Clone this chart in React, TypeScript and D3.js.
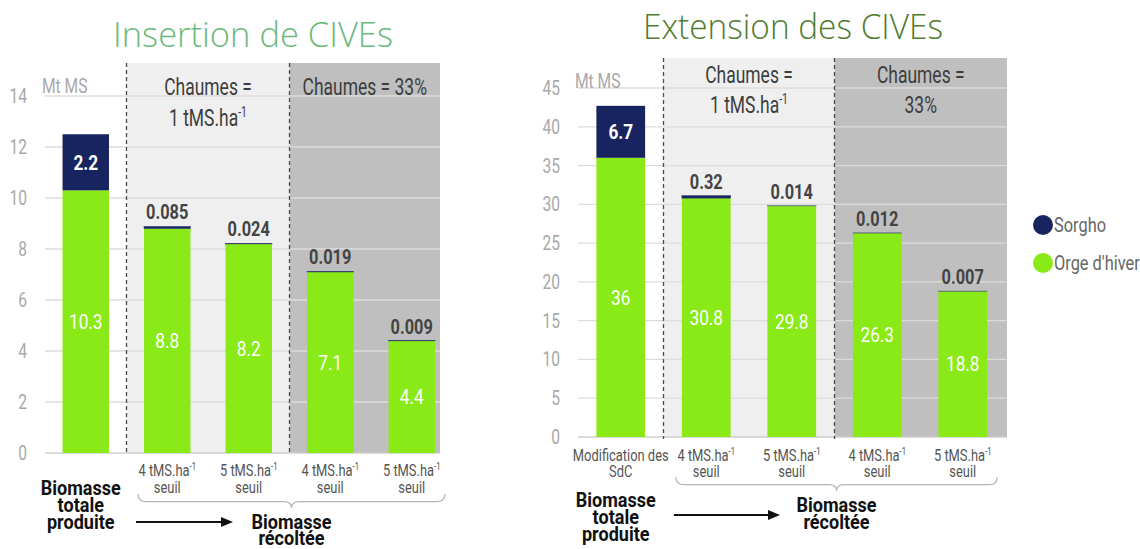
import React, { useRef, useEffect } from 'react';
import * as d3 from 'd3';

// Insertion de CIVEs (Mt MS)
const insertionOrge = [10.3, 8.8, 8.2, 7.1, 4.4];
const insertionSorgho = [2.2, 0.085, 0.024, 0.019, 0.009];
const insertionTicks = [0, 2, 4, 6, 8, 10, 12, 14];

// Extension des CIVEs (Mt MS)
const extensionOrge = [36, 30.8, 29.8, 26.3, 18.8];
const extensionSorgho = [6.7, 0.32, 0.014, 0.012, 0.007];
const extensionTicks = [0, 5, 10, 15, 20, 25, 30, 35, 40, 45];

const categoryLabelsLeft = [[''], ['4 tMS.ha', 'seuil'], ['5 tMS.ha', 'seuil'], ['4 tMS.ha', 'seuil'], ['5 tMS.ha', 'seuil']];
const categoryLabelsRight = [['Modification des', 'SdC'], ['4 tMS.ha', 'seuil'], ['5 tMS.ha', 'seuil'], ['4 tMS.ha', 'seuil'], ['5 tMS.ha', 'seuil']];
const legendItems = ['Sorgho', "Orge d'hiver"];

const GREEN = '#8aea17';
const NAVY = '#18245f';
const COND = "Roboto, 'Noto Sans', sans-serif";
const SX = 0.8; // fake condensed face

// condensed text helper
function label(g, x, y, str, o = {}) {
  const t = g.append('text')
    .attr('transform', `translate(${x},${y}) scale(${o.sx || SX},1)`)
    .attr('text-anchor', o.anchor || 'middle')
    .attr('dy', o.dy || 0)
    .attr('font-family', COND)
    .attr('font-size', o.size || 16)
    .attr('font-weight', o.weight || 'normal')
    .attr('fill', o.fill || '#444');
  if (typeof str === 'string' && str.endsWith('ha')) {
    t.append('tspan').text(str);
    t.append('tspan').attr('dy', -(o.size || 16) * 0.38).attr('font-size', (o.size || 16) * 0.6).text('-1');
  } else t.text(str);
  return t;
}

function brace(x1, x2, tip, yTop, h) {
  const ym = yTop + h * 0.55;
  const r = 8;
  return `M${x1},${yTop} Q${x1},${ym} ${x1 + r},${ym} L${tip - r},${ym} Q${tip},${ym} ${tip},${yTop + h} Q${tip},${ym} ${tip + r},${ym} L${x2 - r},${ym} Q${x2},${ym} ${x2},${yTop}`;
}

function drawPanel(svg, p) {
  const x = d3.scaleBand().domain(d3.range(p.orge.length)).range(p.xRange).paddingInner(0.43).paddingOuter(0.215);
  const y = d3.scaleLinear().domain([0, p.yMax]).range(p.yRange);
  const bw = x.bandwidth();
  const gap = (x.step() - bw) / 2;
  const b1 = x(1) - gap;
  const b2 = x(3) - gap;
  const g = svg.append('g');

  // title
  g.append('text')
    .attr('x', p.titleX).attr('y', p.titleY)
    .attr('text-anchor', 'middle')
    .attr('font-family', "'Open Sans', 'Noto Sans', sans-serif")
    .attr('font-weight', 300)
    .attr('font-size', 34)
    .attr('textLength', p.titleLen).attr('lengthAdjust', 'spacingAndGlyphs')
    .attr('fill', p.titleColor)
    .text(p.title);

  // backgrounds
  g.append('rect').attr('x', b1).attr('y', p.bgTop).attr('width', b2 - b1).attr('height', y(0) - p.bgTop).attr('fill', '#efefef');
  g.append('rect').attr('x', b2).attr('y', p.bgTop).attr('width', p.gridEnd - b2).attr('height', y(0) - p.bgTop).attr('fill', '#bfbfbf');

  // gridlines
  g.selectAll('.grid').data(p.ticks).enter().append('line')
    .attr('x1', p.xRange[0]).attr('x2', p.gridEnd)
    .attr('y1', (d) => y(d)).attr('y2', (d) => y(d))
    .attr('stroke', (d) => (d === 0 ? '#cfcfcf' : '#dcdcdc'))
    .attr('stroke-width', 1.3);

  p.ticks.forEach((d) => {
    label(g, p.xRange[0] - 18, y(d), d, { anchor: 'end', dy: '0.35em', size: 20, fill: '#a8a8a8', sx: 0.78 });
  });
  label(g, p.xRange[0] - 3, p.unitY, 'Mt MS', { anchor: 'start', size: 20, fill: '#a8a8a8', sx: 0.78 });

  // dashed separators
  [b1, b2].forEach((bx) => {
    g.append('line').attr('x1', bx).attr('x2', bx).attr('y1', p.bgTop).attr('y2', y(0) + 2)
      .attr('stroke', '#4a4a4a').attr('stroke-width', 1.3).attr('stroke-dasharray', '4 3');
  });

  // headers
  const hdr = { size: 23, fill: '#3d3d3d', sx: 0.76 };
  ['Chaumes =', '1 tMS.ha'].forEach((ln, k) => label(g, (b1 + b2) / 2, p.headerY[k], ln, hdr));
  p.darkHeader.forEach((ln, k) => label(g, (b2 + p.gridEnd) / 2, p.darkHeaderY[k], ln, hdr));

  // bars
  const idx = d3.range(p.orge.length);
  g.selectAll('.orge').data(idx).enter().append('rect')
    .attr('x', (i) => x(i)).attr('width', bw)
    .attr('y', (i) => y(p.orge[i])).attr('height', (i) => y(0) - y(p.orge[i]))
    .attr('fill', GREEN);
  g.selectAll('.sorgho').data(idx).enter().append('rect')
    .attr('x', (i) => x(i)).attr('width', bw)
    .attr('y', (i) => y(p.orge[i] + p.sorgho[i]))
    .attr('height', (i) => y(p.orge[i]) - y(p.orge[i] + p.sorgho[i]))
    .attr('fill', NAVY).attr('stroke', (i) => (i === 0 ? 'none' : '#3a4470')).attr('stroke-width', 0.6);

  // value labels
  idx.forEach((i) => {
    const cx = x(i) + bw / 2;
    label(g, cx, y(p.orge[i] / 2), p.orge[i], { dy: '0.35em', size: 21, fill: '#fff', sx: 0.82 });
    if (i === 0) {
      label(g, cx, y(p.orge[i] + p.sorgho[i] / 2), p.sorgho[i], { dy: '0.35em', size: 21, weight: 'bold', fill: '#fff', sx: 0.82 });
    } else {
      label(g, cx, y(p.orge[i] + p.sorgho[i]) - 7, p.sorgho[i], { size: 20, weight: 'bold', fill: '#444', sx: 0.82 });
    }
    p.cats[i].forEach((ln, k) => label(g, cx, p.catY[k], ln, { size: 17, fill: '#555', sx: 0.76 }));
  });

  // brace
  const bx1 = x(1) - 6;
  const bx2 = x(p.orge.length - 1) + bw + 10;
  const tip = (bx1 + bx2) / 2;
  g.append('path').attr('d', brace(bx1, bx2, tip, p.braceY, 14))
    .attr('fill', 'none').attr('stroke', '#b5b5b5').attr('stroke-width', 1.2);

  // bottom annotations
  const bold = { size: 21, weight: 'bold', fill: '#111', sx: 0.86 };
  ['Biomasse', 'totale', 'produite'].forEach((ln, k) => label(g, x(0) + bw / 2 - 5, p.totY[k], ln, bold));
  ['Biomasse', 'récoltée'].forEach((ln, k) => label(g, tip, p.recY[k], ln, bold));

  g.append('line').attr('x1', x(1) - 8).attr('x2', p.arrowEnd - 8)
    .attr('y1', p.arrowY).attr('y2', p.arrowY).attr('stroke', '#111').attr('stroke-width', 2);
  g.append('path')
    .attr('d', `M${p.arrowEnd},${p.arrowY} L${p.arrowEnd - 12},${p.arrowY - 5} L${p.arrowEnd - 12},${p.arrowY + 5} Z`)
    .attr('fill', '#111');
}

function App() {
  const ref = useRef(null);

  useEffect(() => {
    const svg = d3.select(ref.current);
    svg.selectAll('*').remove();

    drawPanel(svg, {
      orge: insertionOrge, sorgho: insertionSorgho, ticks: insertionTicks, yMax: 14,
      xRange: [45, 452.5], yRange: [453, 96], gridEnd: 440, bgTop: 63,
      title: 'Insertion de CIVEs', titleX: 253, titleY: 47, titleLen: 280, titleColor: '#6cb97c',
      unitY: 93, headerY: [95, 126], darkHeader: ['Chaumes = 33%'], darkHeaderY: [95],
      cats: categoryLabelsLeft, catY: [476, 493], braceY: 494,
      totY: [495, 512, 529], recY: [529, 545], arrowY: 522, arrowEnd: 233,
    });

    drawPanel(svg, {
      orge: extensionOrge, sorgho: extensionSorgho, ticks: extensionTicks, yMax: 45,
      xRange: [578, 1005.5], yRange: [437, 88], gridEnd: 1007, bgTop: 58,
      title: 'Extension des CIVEs', titleX: 793, titleY: 39, titleLen: 300, titleColor: '#4f7c2f',
      unitY: 88, headerY: [83, 113], darkHeader: ['Chaumes =', '33%'], darkHeaderY: [83, 113],
      cats: categoryLabelsRight, catY: [461, 477], braceY: 477,
      totY: [507, 524, 541], recY: [512, 529], arrowY: 515, arrowEnd: 780,
    });

    // legend
    const leg = svg.append('g');
    leg.selectAll('circle').data(legendItems).enter().append('circle')
      .attr('cx', 1043).attr('cy', (d, i) => 225 + i * 38).attr('r', 10)
      .attr('fill', (d, i) => (i === 0 ? NAVY : GREEN));
    legendItems.forEach((d, i) => {
      label(leg, 1054, 225 + i * 38, d, { anchor: 'start', dy: '0.35em', size: 21, fill: '#666', sx: 0.78 });
    });
  }, []);

  return (
    <svg ref={ref} width={1140} height={549}
      style={{ position: 'absolute', left: 0, top: 0, background: '#fff' }} />
  );
}

export default App;
